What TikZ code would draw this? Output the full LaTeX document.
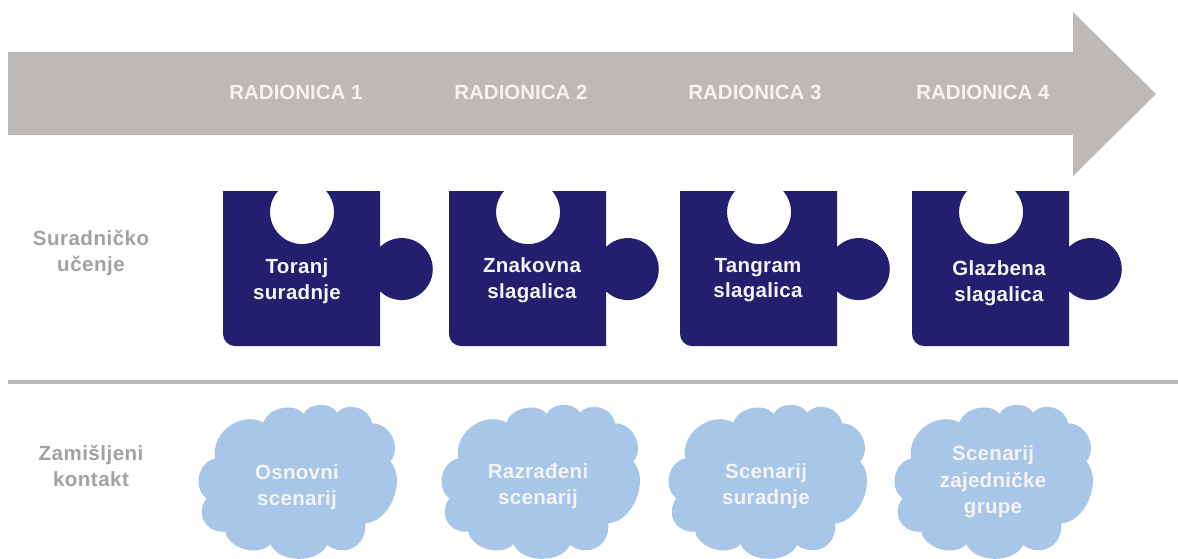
\documentclass[tikz,border=0pt]{standalone}
\usepackage{fontspec}
\setmainfont{Liberation Sans}
\definecolor{arrowgray}{HTML}{BDB9B6}
\definecolor{labelgray}{HTML}{A5A19E}
\definecolor{navy}{HTML}{241E6E}
\definecolor{cloudblue}{HTML}{A7C6E8}
\definecolor{softwhite}{HTML}{F4F3F2}
\tikzset{
  headtxt/.style={text=softwhite,font=\fontsize{20.5}{24}\selectfont\bfseries,anchor=center},
  puzzletxt/.style={text=softwhite,align=center,font=\fontsize{20.5}{25.5}\selectfont\bfseries\addfontfeatures{LetterSpace=1.5},anchor=center},
  cloudtxt/.style={text=softwhite,align=center,font=\fontsize{20.5}{26.5}\selectfont\bfseries\addfontfeatures{LetterSpace=1.5},anchor=center},
  sidetxt/.style={text=labelgray,align=center,font=\fontsize{20.5}{26}\selectfont\bfseries\addfontfeatures{LetterSpace=2.5},anchor=center},
  lobeS/.style={bend left=65,looseness=0.95},
  lobeM/.style={bend left=65,looseness=1.1},
  lobeL/.style={bend left=65,looseness=1.3},
  puzzlepiece/.pic={
    \fill[navy] (0,0) -- (55,0) arc (138.8:401.2:32) -- (157,0) -- (157,-56)
      arc (134.6:-134.6:31) -- (157,-155) -- (12,-155) arc (270:180:12) -- cycle;
  },
  cloudpiece/.pic={
    \begin{scope}[x=0.3333pt,y=0.3333pt,shift={(-80,0)}]
    \fill[cloudblue] (135,-205)
      to[lobeM] (280,-98)
      to[lobeS] (400,-72)
      to[lobeS] (500,-68)
      to[lobeM] (605,-100)
      to[lobeM] (660,-215)
      to[lobeS] (585,-400)
      to[lobeL] (470,-465)
      to[lobeS] (300,-462)
      to[lobeS] (165,-425)
      to[lobeL] (108,-325)
      to[lobeM] (135,-205) -- cycle;
    \end{scope}
  }
}
\begin{document}
\begin{tikzpicture}[x=1pt,y=1pt]
\clip (0,0) rectangle (1178,-558);
\fill[white] (0,0) rectangle (1178,-558);
\fill[arrowgray] (8,-52) -- (1073,-52) -- (1073,-12) -- (1156,-94) -- (1073,-176) -- (1073,-135) -- (8,-135) -- cycle;
\draw[arrowgray,line width=4.5pt] (8,-382) -- (1178,-382);
\node[headtxt] (h1) at (296,-92) {RADIONICA 1};
\node[headtxt] (h2) at (521,-92) {RADIONICA 2};
\node[headtxt] (h3) at (755,-92) {RADIONICA 3};
\node[headtxt] (h4) at (983,-92) {RADIONICA 4};
\pic at (223,-191) {puzzlepiece};
\pic at (449,-191) {puzzlepiece};
\pic at (680,-191) {puzzlepiece};
\pic at (912,-191) {puzzlepiece};
\node[puzzletxt] (p1) at (297,-281) {Toranj\\suradnje};
\node[puzzletxt] (p2) at (532,-280) {Znakovna\\slagalica};
\node[puzzletxt] (p3) at (758,-280) {Tangram\\slagalica};
\node[puzzletxt] (p4) at (999,-283) {Glazbena\\slagalica};
\pic at (197,-390) {cloudpiece};
\pic at (440,-390) {cloudpiece};
\pic at (667,-390) {cloudpiece};
\pic at (893,-390) {cloudpiece};
\node[cloudtxt] (c1) at (297,-487) {Osnovni\\scenarij};
\node[cloudtxt] (c2) at (538,-486) {Razrađeni\\scenarij};
\node[cloudtxt] (c3) at (766,-486) {Scenarij\\suradnje};
\node[cloudtxt] (c4) at (993,-482) {Scenarij\\zajedničke\\grupe};
\node[sidetxt] (s1) at (91,-253) {Suradničko\\učenje};
\node[sidetxt] (s2) at (91,-466) {Zamišljeni\\kontakt};
\end{tikzpicture}
\end{document}
